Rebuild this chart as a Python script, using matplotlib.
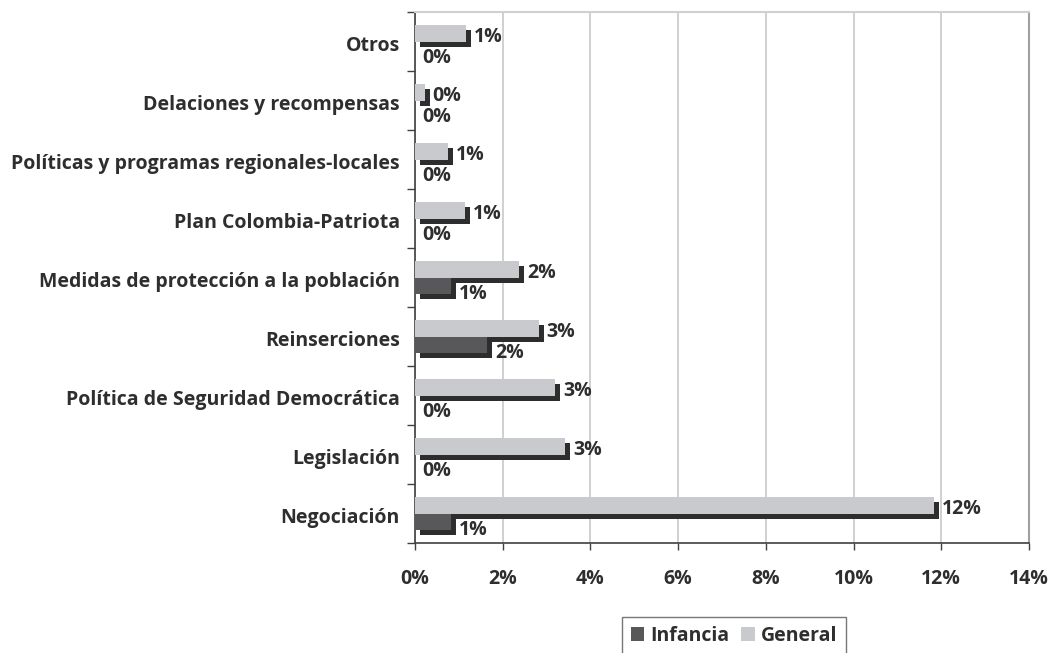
import matplotlib
matplotlib.use("Agg")
import matplotlib.pyplot as plt
import matplotlib.transforms as mtransforms
from matplotlib.patches import Patch
import numpy as np

categories = ["Otros", "Delaciones y recompensas", "Políticas y programas regionales-locales",
              "Plan Colombia-Patriota", "Medidas de protección a la población", "Reinserciones",
              "Política de Seguridad Democrática", "Legislación", "Negociación"]
general = [1.17, 0.23, 0.75, 1.14, 2.38, 2.83, 3.20, 3.43, 11.84]
infancia = [0.0, 0.0, 0.0, 0.0, 0.82, 1.65, 0.0, 0.0, 0.82]
xticks = [0, 2, 4, 6, 8, 10, 12, 14]

FAM = ['Open Sans', 'DejaVu Sans']
plt.rcParams['font.family'] = FAM
plt.rcParams['font.weight'] = 'bold'
TXT = '#2e2e2e'
LIGHT = '#c9cace'
DARK = '#58575a'
SHADOW = '#2d2d2d'
FS = 14

W, H = 1052, 653
fig = plt.figure(figsize=(W / 100, H / 100), dpi=100)
ax = fig.add_axes([415 / W, 1 - 543 / H, (1029 - 415) / W, (543 - 12) / H])

n = len(categories)
ypos = np.arange(n)[::-1]  # Otros at top
bh = 0.288

shadow_tr = ax.transData + mtransforms.ScaledTranslation(5 / 100, -5 / 100, fig.dpi_scale_trans)

# shadows
ax.barh(ypos + bh / 2, general, height=bh, color=SHADOW, transform=shadow_tr, zorder=2, linewidth=0)
ax.barh(ypos - bh / 2, infancia, height=bh, color=SHADOW, transform=shadow_tr, zorder=2, linewidth=0)
# bars
ax.barh(ypos + bh / 2, general, height=bh, color=LIGHT, zorder=3, linewidth=0)
ax.barh(ypos - bh / 2, infancia, height=bh, color=DARK, zorder=3, linewidth=0)

for y, g, i in zip(ypos, general, infancia):
    ax.annotate(f"{g:.0f}%", (g, y + bh / 2), xytext=(5.5, -3.0), textcoords='offset points',
                ha='left', va='center', fontsize=FS, fontweight='bold', color=TXT, zorder=5)
    ax.annotate(f"{i:.0f}%", (i, y - bh / 2), xytext=(5.5, -6.0), textcoords='offset points',
                ha='left', va='center', fontsize=FS, fontweight='bold', color=TXT, zorder=5)

ax.set_xlim(0, 14)
ax.set_ylim(-0.5, n - 0.5)
ax.set_xticks(xticks)
ax.set_xticklabels([f"{t}%" for t in xticks], fontsize=FS, fontweight='bold', color=TXT)
ax.tick_params(axis='x', direction='out', length=5, width=1, color='#404040', pad=14)
ax.xaxis.grid(True, color='#c4c4c4', linewidth=1.1, zorder=0)
ax.set_axisbelow(True)

ax.set_yticks(np.arange(n + 1) - 0.5)
ax.set_yticklabels([])
ax.tick_params(axis='y', which='major', direction='out', length=6, width=1, color='#404040')
ax.set_yticks(ypos, minor=True)
ax.set_yticklabels(categories, minor=True, fontsize=FS, fontweight='bold', color=TXT)
ax.tick_params(axis='y', which='minor', length=0, pad=11.0)
lbl_shift = mtransforms.ScaledTranslation(0, -2 / 100, fig.dpi_scale_trans)
for lbl in ax.get_yticklabels(minor=True):
    lbl.set_transform(lbl.get_transform() + lbl_shift)

for s in ['left', 'bottom']:
    ax.spines[s].set_color('#404040')
    ax.spines[s].set_linewidth(1.2)
ax.spines['top'].set_color('#d0d0d0')
ax.spines['top'].set_linewidth(1.5)
ax.spines['right'].set_color('#a0a0a0')
ax.spines['right'].set_linewidth(1.5)

handles = [Patch(facecolor=DARK, edgecolor='none', label='Infancia'),
           Patch(facecolor=LIGHT, edgecolor='none', label='General')]
leg = fig.legend(handles=handles, loc='upper left', bbox_to_anchor=(622 / W, 1 - 617 / H),
                 ncol=2, frameon=True, fancybox=False, edgecolor='#555555',
                 prop={'family': FAM, 'weight': 'bold', 'size': FS},
                 handlelength=0.7, handleheight=0.7, handletextpad=0.3, columnspacing=0.6,
                 borderpad=0.45, borderaxespad=0)
for t in leg.get_texts():
    t.set_color(TXT)
leg.get_frame().set_linewidth(1.0)

fig.savefig("out.png", dpi=100)
